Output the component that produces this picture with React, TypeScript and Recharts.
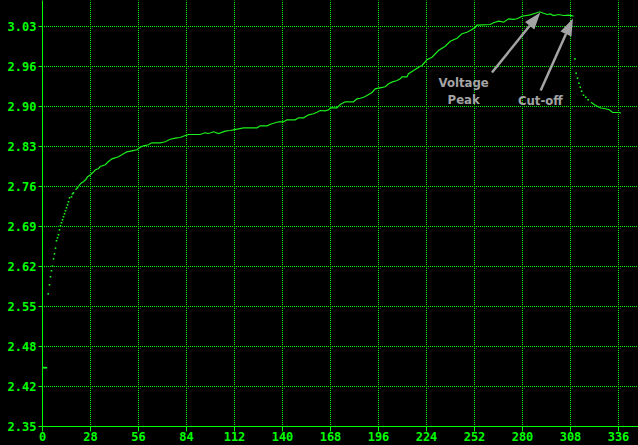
import React from 'react';
import { ComposedChart, Line, Scatter, XAxis, YAxis, ReferenceLine, ReferenceDot } from 'recharts';

const GREEN = '#00ff00';
const CURVE = '#1cf01c';
const GREY = '#a4a4a4';

// time (x) ticks and voltage tick labels as printed on the chart
const xTicks = [0, 28, 56, 84, 112, 140, 168, 196, 224, 252, 280, 308, 336];
const yTickLabels = ['2.35', '2.42', '2.48', '2.55', '2.62', '2.69', '2.76', '2.83', '2.90', '2.96', '3.03'];
const yTicks = yTickLabels.map((_, i) => 2.35 + i * 0.068);

// initial sparse samples (drawn as separate dots)
const rampPoints: [number, number][] = [
  [0.5, 2.45], [1.1, 2.45], [1.7, 2.45], [2.3, 2.45],
  [3.33, 2.5756], [4.08, 2.5909], [4.67, 2.6045], [5.25, 2.6147], [5.83, 2.6225],
  [6.42, 2.6351], [7.0, 2.6436], [7.58, 2.6531], [8.17, 2.6657], [8.75, 2.6708],
  [9.33, 2.6759], [9.92, 2.6844], [10.5, 2.6912], [11.09, 2.6963], [11.67, 2.7014],
  [12.25, 2.7065], [12.84, 2.7116], [13.42, 2.7167], [14.0, 2.7218], [14.59, 2.7269],
  [15.17, 2.732], [15.75, 2.7388], [16.92, 2.7405], [17.5, 2.7456], [18.09, 2.7473],
];

// charge curve up to cut-off
const chargePoints: [number, number][] = [
  [19.25, 2.7524], [20.4, 2.7558], [21.6, 2.7609], [22.75, 2.7643], [23.9, 2.766],
  [25.1, 2.7694], [26.3, 2.7745], [28.0, 2.7779], [29.2, 2.7813], [30.9, 2.7864],
  [32.5, 2.788], [33.7, 2.792], [36.6, 2.7949], [38.5, 2.8005], [40.5, 2.805],
  [44.3, 2.8085], [47.3, 2.8136], [49.2, 2.817], [52.2, 2.8187], [55.1, 2.8204],
  [57.0, 2.8248], [58.9, 2.8272], [61.8, 2.8289], [63.8, 2.8323], [68.7, 2.8323],
  [71.6, 2.834], [74.5, 2.8384], [77.4, 2.8401], [80.3, 2.8413], [83.3, 2.8447],
  [85.2, 2.8464], [92.0, 2.8464], [94.9, 2.8493], [96.9, 2.8481], [99.8, 2.851],
  [102.7, 2.8481], [106.6, 2.852], [109.5, 2.8532], [111.4, 2.8544], [117.3, 2.8578],
  [125.1, 2.8578], [127.0, 2.8612], [130.9, 2.8612], [133.8, 2.8646], [137.7, 2.868],
  [140.6, 2.868], [142.6, 2.8714], [147.4, 2.8714], [149.4, 2.8748], [152.3, 2.8748],
  [155.2, 2.8799], [158.1, 2.8816], [160.1, 2.8843], [162.0, 2.8872], [164.9, 2.8867],
  [166.9, 2.8884], [167.9, 2.8918], [171.8, 2.8918], [173.7, 2.8974], [176.6, 2.902],
  [181.4, 2.902], [183.4, 2.9071], [185.4, 2.908], [187.3, 2.9098], [189.3, 2.9127],
  [192.2, 2.9178], [194.1, 2.9241], [197.0, 2.9258], [199.9, 2.9275], [201.9, 2.9326],
  [203.8, 2.9354], [206.8, 2.9382], [208.7, 2.9411], [209.7, 2.9445], [212.6, 2.9445],
  [213.5, 2.9496], [216.5, 2.955], [219.4, 2.9608], [221.4, 2.9637], [224.3, 2.9734],
  [227.2, 2.9778], [231.0, 2.9892], [234.9, 2.9965], [237.9, 3.005], [241.8, 3.0101],
  [244.7, 3.0176], [247.6, 3.0203], [250.5, 3.0249], [252.5, 3.0288], [253.4, 3.0322],
  [261.2, 3.0334], [263.1, 3.0363], [266.0, 3.039], [269.0, 3.0373], [271.9, 3.0431],
  [274.8, 3.042], [276.8, 3.0431], [279.7, 3.0475], [284.5, 3.0499], [287.5, 3.0526],
  [290.0, 3.055], [292.3, 3.0526], [294.3, 3.0504], [296.2, 3.0515], [298.1, 3.0487],
  [301.1, 3.0504], [304.0, 3.0487], [306.9, 3.0492], [309.8, 3.0475],
];

// fall after cut-off (separate dots), then settling tail
const dropPoints: [number, number][] = [
  [310.6, 2.975], [311.3, 2.9506], [312.1, 2.9422], [312.9, 2.9336], [313.7, 2.9268],
  [314.5, 2.92], [315.6, 2.9132], [316.9, 2.9098], [318.3, 2.9054],
];
const tailPoints: [number, number][] = [
  [319.9, 2.9013], [321.8, 2.8974], [323.8, 2.894], [325.7, 2.8915], [327.7, 2.8906],
  [330.6, 2.8884], [332.6, 2.8838], [336.5, 2.8838], [337.5, 2.8826],
];

const toRows = (pts: [number, number][]) => pts.map(([t, v]) => ({ t, v }));

const tickFont = { fill: GREEN, fontFamily: 'DejaVu Sans Mono', fontWeight: 'bold', fontSize: 12 };

const Pixel = (p: any) => (
  <rect x={p.cx - 0.8} y={p.cy - 0.8} width={1.6} height={1.6} fill={CURVE} />
);

const Arrow = (p: any) => {
  const { x1, y1, x2, y2 } = p;
  const dx = x2 - x1;
  const dy = y2 - y1;
  const len = Math.sqrt(dx * dx + dy * dy) || 1;
  const ux = dx / len;
  const uy = dy / len;
  const hl = 17;
  const hw = 6;
  const bx = x2 - ux * hl;
  const by = y2 - uy * hl;
  return (
    <g>
      <line x1={x1} y1={y1} x2={bx} y2={by} stroke={GREY} strokeWidth={2.5} />
      <polygon
        points={`${x2},${y2} ${bx - uy * hw},${by + ux * hw} ${bx + uy * hw},${by - ux * hw}`}
        fill={GREY}
      />
    </g>
  );
};

const note = (text: string) => (p: any) => (
  <text x={p.cx} y={p.cy} textAnchor="middle" dominantBaseline="central" fill={GREY}
    fontFamily="DejaVu Sans Condensed, DejaVu Sans" fontWeight="bold" fontSize={13}>
    {text}
  </text>
);

export default function App() {
  return (
    <div style={{ position: 'absolute', left: 0, top: 0, width: 638, height: 445, background: '#000' }}>
      <ComposedChart width={638} height={445} margin={{ top: 0.5, right: 0, bottom: 0, left: 0.5 }}>
        <XAxis type="number" dataKey="t" domain={[0, 347.375]} ticks={xTicks} allowDataOverflow
          height={18.5} tickSize={5} tickMargin={1} tick={tickFont}
          axisLine={{ stroke: GREEN }} tickLine={{ stroke: GREEN }} interval={0} />
        <YAxis type="number" domain={[2.35, 3.0742]} ticks={yTicks} allowDataOverflow
          width={42} tickSize={4} tickMargin={2} tick={tickFont} interval={0}
          tickFormatter={(_v: number, i: number) => yTickLabels[i]}
          axisLine={{ stroke: GREEN }} tickLine={{ stroke: GREEN }} />
        {xTicks.slice(1).map((t) => (
          <ReferenceLine key={`gx${t}`} x={t} stroke={GREEN} strokeDasharray="1 1" strokeDashoffset={0.5} />
        ))}
        {yTicks.slice(1).map((v) => (
          <ReferenceLine key={`gy${v}`} y={v} stroke={GREEN} strokeDasharray="1 1" strokeDashoffset={0.5} />
        ))}
        <Scatter data={toRows(rampPoints)} dataKey="v" shape={Pixel} isAnimationActive={false} />
        <Line data={toRows(chargePoints)} dataKey="v" type="linear" stroke={CURVE} strokeWidth={1.2}
          dot={false} isAnimationActive={false} />
        <Scatter data={toRows(dropPoints)} dataKey="v" shape={Pixel} isAnimationActive={false} />
        <Line data={toRows(tailPoints)} dataKey="v" type="linear" stroke={CURVE} strokeWidth={1.2}
          dot={false} isAnimationActive={false} />
        <ReferenceLine segment={[{ x: 262.2, y: 2.9518 }, { x: 290.4, y: 3.0538 }]} shape={Arrow} />
        <ReferenceLine segment={[{ x: 290.6, y: 2.9212 }, { x: 309.4, y: 3.0436 }]} shape={Arrow} />
        <ReferenceDot x={245.7} y={2.9348} shape={note('Voltage')} />
        <ReferenceDot x={245.7} y={2.9059} shape={note('Peak')} />
        <ReferenceDot x={290.4} y={2.905} shape={note('Cut-off')} />
      </ComposedChart>
    </div>
  );
}
